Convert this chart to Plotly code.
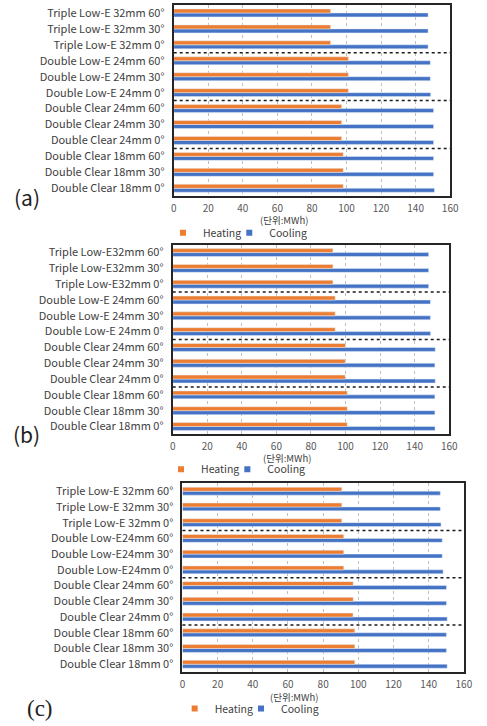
import plotly.graph_objects as go

# Window configurations, listed bottom to top on each chart
cats_a = ["Double Clear 18mm 0°", "Double Clear 18mm 30°", "Double Clear 18mm 60°",
          "Double Clear 24mm 0°", "Double Clear 24mm 30°", "Double Clear 24mm 60°",
          "Double Low-E 24mm 0°", "Double Low-E 24mm 30°", "Double Low-E 24mm 60°",
          "Triple Low-E 32mm 0°", "Triple Low-E 32mm 30°", "Triple Low-E 32mm 60°"]
cats_b = ["Double Clear 18mm 0°", "Double Clear 18mm 30°", "Double Clear 18mm 60°",
          "Double Clear 24mm 0°", "Double Clear 24mm 30°", "Double Clear 24mm 60°",
          "Double Low-E 24mm 0°", "Double Low-E 24mm 30°", "Double Low-E 24mm 60°",
          "Triple Low-E32mm 0°", "Triple Low-E32mm 30°", "Triple Low-E32mm 60°"]
cats_c = ["Double Clear 18mm 0°", "Double Clear 18mm 30°", "Double Clear 18mm 60°",
          "Double Clear 24mm 0°", "Double Clear 24mm 30°", "Double Clear 24mm 60°",
          "Double Low-E24mm 0°", "Double Low-E24mm 30°", "Double Low-E24mm 60°",
          "Triple Low-E 32mm 0°", "Triple Low-E 32mm 30°", "Triple Low-E 32mm 60°"]

# Annual energy (MWh)
heat_a = [98.1, 98.1, 98.1, 97.2, 97.2, 97.2, 101.1, 101.1, 101.1, 90.8, 90.8, 90.8]
cool_a = [150.9, 150.4, 150.4, 150.4, 150.4, 150.4, 148.7, 148.5, 148.5, 147.2, 147.2, 147.2]
heat_b = [101.0, 101.0, 101.0, 99.8, 99.8, 100.0, 94.0, 94.0, 94.0, 92.7, 92.7, 92.7]
cool_b = [151.8, 151.7, 151.7, 151.9, 151.7, 151.9, 149.2, 149.1, 149.1, 148.1, 148.1, 148.1]
heat_c = [98.0, 98.0, 98.0, 97.0, 97.1, 97.1, 91.7, 91.7, 91.7, 90.6, 90.6, 90.6]
cool_c = [150.5, 150.1, 150.1, 150.5, 150.1, 150.1, 148.2, 147.7, 147.7, 147.0, 146.6, 146.6]

panels = [
    ("(a)", cats_a, heat_a, cool_a),
    ("(b)", cats_b, heat_b, cool_b),
    ("(c)", cats_c, heat_c, cool_c),
]

x_ticks = [0, 20, 40, 60, 80, 100, 120, 140, 160]
unit_label = "(단위:MWh)"

W, H = 487, 726
ORANGE = "#ED7D31"
BLUE = "#4472C4"
FONT = "Noto Sans CJK KR"

# plot-area boxes in pixels: left, right, top, bottom
boxes = [(175, 458.5, 4, 195.5), (174, 457.5, 244, 434), (184, 472.5, 483, 672)]
legend_y = [232, 469, 708.5]
# swatch centres for the Heating / Cooling entries
legend_x = [(182, 250), (180, 248), (194, 262)]
unit_pos = [(288, 219.5), (291, 457.5), (298, 696.5)]
tag_pos = [(24.5, 196), (24.5, 434), (38, 708)]

fig = go.Figure()
layout = dict(
    width=W, height=H,
    margin=dict(l=0, r=0, t=0, b=0),
    paper_bgcolor="white", plot_bgcolor="white",
    barmode="group", bargap=0.5, bargroupgap=0,
    showlegend=True,
    font=dict(family=FONT, size=11, color="#404040"),
)
annotations = []
shapes = []
leg_count = 0

for i, (tag, cats, heat, cool) in enumerate(panels):
    n = "" if i == 0 else str(i + 1)
    xa, ya = "x" + n, "y" + n
    l, r, t, b = boxes[i]

    # cooling first so heating sits above it within each group
    fig.add_trace(go.Bar(y=cats, x=cool, orientation="h", marker_color=BLUE,
                         name="Cooling", xaxis=xa, yaxis=ya, showlegend=False))
    fig.add_trace(go.Bar(y=cats, x=heat, orientation="h", marker_color=ORANGE,
                         name="Heating", xaxis=xa, yaxis=ya, showlegend=False))

    # one legend box per entry so each can be placed on its own
    for k, (nm, col) in enumerate((("Heating", ORANGE), ("Cooling", BLUE))):
        leg_count += 1
        leg = "legend" if leg_count == 1 else "legend%d" % leg_count
        fig.add_trace(go.Scatter(x=[None], y=[None], mode="markers", name=nm,
                                 marker=dict(symbol="square", size=6, color=col),
                                 xaxis=xa, yaxis=ya, legend=leg))
        layout[leg] = dict(
            orientation="h", x=(legend_x[i][k] - 18) / W, y=1 - legend_y[i] / H,
            xanchor="left", yanchor="middle", bgcolor="rgba(0,0,0,0)",
            font=dict(family=FONT, size=10.5, color="#404040"),
            itemwidth=30,
        )

    layout["xaxis" + n] = dict(
        domain=[l / W, r / W], anchor=ya, range=[0, 160], tickvals=x_ticks,
        showgrid=True, gridcolor="#BFBFBF", griddash="dot", gridwidth=1,
        showline=True, mirror=True, linecolor="#262626", linewidth=2,
        ticks="", ticklabelstandoff=2, zeroline=False,
        tickfont=dict(family=FONT, size=10, color="#595959"), fixedrange=True,
    )
    layout["yaxis" + n] = dict(
        domain=[1 - b / H, 1 - t / H], anchor=xa, type="category",
        categoryorder="array", categoryarray=cats,
        showline=True, mirror=True, linecolor="#262626", linewidth=2,
        ticks="", ticklabelstandoff=5, showgrid=False, zeroline=False,
        tickfont=dict(family=FONT, size=11, color="#404040"), fixedrange=True,
    )

    # dotted separators between glazing groups
    for yv in (2.5, 5.5, 8.5):
        shapes.append(dict(type="line", xref=xa + " domain", yref=ya,
                           x0=0, x1=1.0, y0=yv, y1=yv,
                           line=dict(color="#1a1a1a", width=1.5, dash="dot")))

    ux, uy = unit_pos[i]
    annotations.append(dict(text=unit_label, x=ux / W, y=1 - uy / H, xref="paper",
                            yref="paper", showarrow=False, xanchor="center",
                            yanchor="middle",
                            font=dict(family=FONT, size=9.5, color="#404040")))
    tx, ty = tag_pos[i]
    tag_font = dict(family=FONT, size=21, color="#222222") if i < 2 else \
        dict(family="Liberation Serif", size=23, color="#222222")
    annotations.append(dict(text=tag, x=tx / W, y=1 - ty / H, xref="paper",
                            yref="paper", showarrow=False, xanchor="center",
                            yanchor="middle", font=tag_font))

layout["annotations"] = annotations
layout["shapes"] = shapes
fig.update_layout(**layout)
fig.write_html("out.html")
